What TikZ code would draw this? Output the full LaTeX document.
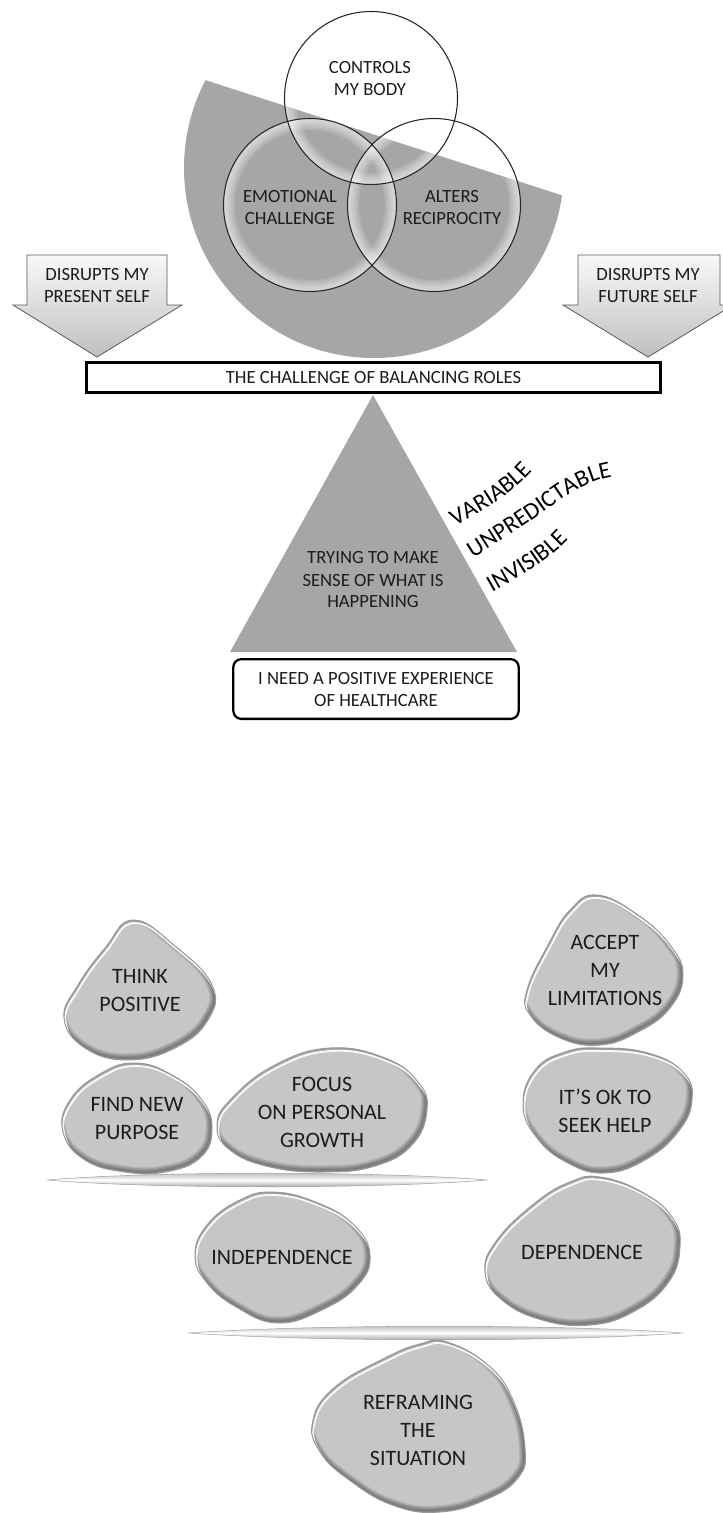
\documentclass[tikz,border=0pt]{standalone}
\usepackage{fontspec}
\setmainfont{Carlito}
\usetikzlibrary{positioning, decorations.text}

\definecolor{discgray}{RGB}{166,166,166}
\definecolor{pebblegray}{RGB}{198,198,198}
\definecolor{ink}{RGB}{28,28,28}

\newcommand\wavyfont{\fontsize{18}{22}\selectfont}

% pebble: fill, inner shadow, highlight, rim
\newcommand\pebble[1]{%
  \fill[pebblegray] plot[smooth cycle, tension=0.75] coordinates {#1};
  \begin{scope}
    \clip plot[smooth cycle, tension=0.75] coordinates {#1};
    \foreach \k in {1,...,6}
      \draw[black, opacity=0.07, line width=\k*1.2pt, shift={(-1.5,-2)}]
        plot[smooth cycle, tension=0.75] coordinates {#1};
    \draw[white, opacity=0.9, line width=1.4pt, shift={(1.5,3)}]
      plot[smooth cycle, tension=0.75] coordinates {#1};
  \end{scope}
  \draw[gray!80, line width=0.7pt] plot[smooth cycle, tension=0.75] coordinates {#1};
}

\begin{document}
\begin{tikzpicture}[x=0.75pt, y=-0.75pt, font=\fontsize{14}{16.5}\selectfont, text=ink]
    \tikzstyle{plaintext} = [align=center, inner sep=0pt]
    \tikzstyle{pebbletext} = [align=center, inner sep=0pt, font=\fontsize{16.5}{21}\selectfont]
    \tikzstyle{ring} = [draw=black!85, line width=0.8pt]
    \tikzstyle{blockarrow} = [top color=gray!5, bottom color=gray!50, draw=gray!70!black, line width=0.6pt]
    \tikzstyle{plank} = [top color=gray!65, bottom color=gray!90, middle color=white, draw=gray!70, line width=0.4pt]

    \useasboundingbox (0,0) rectangle (723,1513);

    % Disc cut by a slanted edge
    \begin{scope}
      \clip (150,62.2) -- (620,214.1) -- (620,420) -- (150,420) -- cycle;
      \fill[discgray] (374,168) circle (190);
    \end{scope}

    % Three circles with a light rim
    \foreach \cx/\cy in {371/98, 310/205, 434/205} {
      \begin{scope}
        \clip (\cx,\cy) circle (86.5);
        \foreach \k in {1,...,8}
          \draw[white, opacity=0.1, line width=\k*2.2pt] (\cx,\cy) circle (86.5);
      \end{scope}
    }
    \foreach \cx/\cy in {371/98, 310/205, 434/205}
      \draw[ring] (\cx,\cy) circle (86.5);

    \node[plaintext] (body) at (370,79) {CONTROLS\\MY BODY};
    \node[plaintext] (emotion) at (290,208) {EMOTIONAL\\CHALLENGE};
    \node[plaintext] (recip) at (452,208) {ALTERS\\RECIPROCITY};

    % Block arrows
    \shadedraw[blockarrow] (27,255) -- (167,255) -- (167,305) -- (182,305) -- (97,357) -- (13,305) -- (27,305) -- cycle;
    \shadedraw[blockarrow] (578,255) -- (720,255) -- (720,305) -- (733,305) -- (648,357) -- (563,305) -- (578,305) -- cycle;
    \node[plaintext] (present) at (97,286) {DISRUPTS MY\\PRESENT SELF};
    \node[plaintext] (future) at (648,286) {DISRUPTS MY\\FUTURE SELF};

    % Balance bar
    \node[draw=black, line width=2pt, fill=white, minimum width=430.7pt, minimum height=22.7pt, inner sep=0pt] (roles) at (373.5,377.5) {THE CHALLENGE OF BALANCING ROLES};

    % Fulcrum
    \fill[discgray] (373,395) -- (230,652) -- (517,652) -- cycle;
    \node[plaintext] (sense) at (373,580) {TRYING TO MAKE\\SENSE OF WHAT IS\\HAPPENING};
    \node[draw=black, line width=1.7pt, rounded corners=6pt, minimum width=214pt, minimum height=44.8pt, align=center, inner sep=0pt] (care) at (376,689) {I NEED A POSITIVE EXPERIENCE\\OF HEALTHCARE};

    % Wavy words
    \path[decorate, decoration={text along path, text={|\wavyfont|VARIABLE}}] (455,526) .. controls (482,511) and (515,494) .. (537,466);
    \path[decorate, decoration={text along path, text={|\wavyfont|UNPREDICTABLE}}] (473,558) .. controls (500,541) and (530,522) .. (552,506) .. controls (575,489) and (600,474) .. (628,476);
    \path[decorate, decoration={text along path, text={|\wavyfont|INVISIBLE}}] (492,592) .. controls (518,577) and (553,560) .. (575,531);

    % Stones
    \pebble{(133,920) (175,946) (212,985) (208,1020) (175,1048) (128,1060) (85,1048) (64,1018) (78,985) (105,948)}
    \pebble{(135,1063) (172,1075) (202,1100) (212,1130) (200,1158) (165,1172) (125,1172) (85,1160) (63,1132) (70,1100) (100,1074)}
    \pebble{(330,1048) (385,1058) (418,1082) (427,1110) (412,1145) (375,1166) (325,1172) (270,1167) (230,1150) (217,1125) (232,1098) (275,1065)}
    \pebble{(597,895) (638,915) (670,945) (683,975) (670,1008) (638,1032) (600,1045) (560,1038) (530,1015) (527,990) (548,945) (570,910)}
    \pebble{(600,1048) (648,1053) (683,1072) (692,1100) (678,1132) (645,1160) (605,1173) (568,1163) (537,1138) (523,1105) (535,1070) (565,1052)}
    \pebble{(273,1192) (318,1203) (354,1225) (370,1255) (358,1285) (322,1310) (278,1323) (238,1308) (207,1283) (195,1255) (207,1225) (238,1201)}
    \pebble{(600,1177) (642,1192) (672,1217) (680,1247) (668,1283) (633,1312) (590,1325) (542,1320) (502,1300) (485,1272) (497,1240) (535,1203) (570,1182)}
    \pebble{(447,1342) (488,1365) (513,1400) (525,1448) (518,1478) (485,1500) (440,1512) (395,1506) (352,1482) (320,1452) (313,1420) (335,1387) (385,1358) (420,1344)}

    % Planks
    \shadedraw[plank] (47,1180) .. controls (150,1171) and (380,1171) .. (487,1180) .. controls (380,1189) and (150,1189) .. cycle;
    \shadedraw[plank] (188,1333) .. controls (320,1324) and (560,1324) .. (683,1333) .. controls (560,1342) and (320,1342) .. cycle;

    \node[pebbletext] (think) at (140,991) {THINK\\POSITIVE};
    \node[pebbletext] (purpose) at (137,1119) {FIND NEW\\PURPOSE};
    \node[pebbletext] (growth) at (322,1112) {FOCUS\\ON PERSONAL\\GROWTH};
    \node[pebbletext] (accept) at (605,970) {ACCEPT\\MY\\LIMITATIONS};
    \node[pebbletext] (help) at (605,1111) {IT’S OK TO\\SEEK HELP};
    \node[pebbletext] (indep) at (282,1257) {INDEPENDENCE};
    \node[pebbletext] (dep) at (582,1252) {DEPENDENCE};
    \node[pebbletext] (reframe) at (418,1430) {REFRAMING\\THE\\SITUATION};
\end{tikzpicture}
\end{document}
